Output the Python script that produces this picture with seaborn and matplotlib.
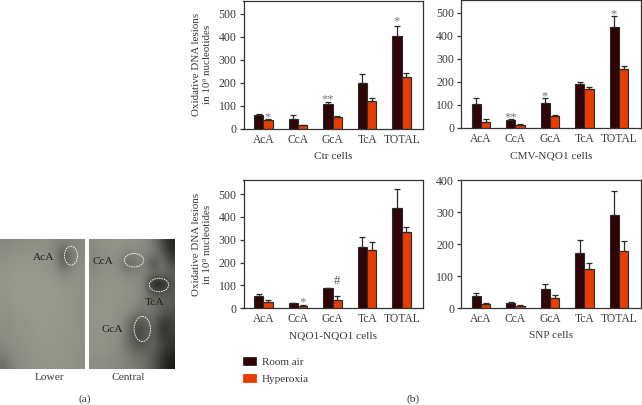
import numpy as np
import pandas as pd
import matplotlib
matplotlib.use('Agg')
import matplotlib.pyplot as plt
import seaborn as sns
from matplotlib.colors import LinearSegmentedColormap
from matplotlib.patches import Ellipse, Patch

sns.set_theme(style="white")
plt.rcParams['font.family'] = ['Liberation Serif', 'DejaVu Serif']
plt.rcParams['text.color'] = '#3a3a3a'
plt.rcParams['axes.labelcolor'] = '#3a3a3a'
plt.rcParams['xtick.color'] = '#3a3a3a'
plt.rcParams['ytick.color'] = '#3a3a3a'

W, H = 642, 405
DARK = '#2f0406'
ORANGE = '#e93c00'

bases = ['AcA', 'CcA', 'GcA', 'TcA', 'TOTAL']
conditions = ['Room air', 'Hyperoxia']

ctr_room = [58, 40, 107, 197, 402]
ctr_room_top = [62, 58, 118, 236, 448]
ctr_hyper = [37, 15, 53, 121, 225]
ctr_hyper_top = [42, 17, 54, 132, 240]

cmv_room = [105, 35, 110, 193, 440]
cmv_room_top = [132, 37, 128, 200, 486]
cmv_hyper = [27, 14, 50, 168, 255]
cmv_hyper_top = [38, 17, 58, 178, 267]

nqo_room = [55, 22, 90, 268, 438]
nqo_room_top = [63, 23, 91, 310, 523]
nqo_hyper = [28, 12, 38, 257, 335]
nqo_hyper_top = [35, 15, 52, 292, 357]

snp_room = [38, 16, 61, 174, 291]
snp_room_top = [47, 20, 75, 213, 368]
snp_hyper = [15, 8, 32, 123, 180]
snp_hyper_top = [18, 9, 43, 143, 209]

# gel photos, coarse grey levels
gel_lower = [
    [128, 132, 134, 136, 136, 134, 130, 122, 128, 130],
    [136, 140, 142, 142, 142, 140, 132, 72, 118, 134],
    [140, 142, 144, 144, 144, 142, 136, 86, 124, 136],
    [142, 144, 146, 146, 146, 144, 142, 130, 136, 138],
    [142, 146, 146, 148, 148, 146, 144, 142, 140, 138],
    [142, 146, 148, 148, 148, 148, 146, 144, 142, 138],
    [140, 144, 146, 148, 148, 148, 146, 144, 142, 138],
    [138, 142, 144, 146, 146, 146, 144, 144, 142, 138],
    [136, 140, 142, 144, 146, 146, 144, 144, 142, 138],
    [134, 138, 140, 142, 144, 146, 144, 142, 142, 138],
    [130, 136, 138, 142, 144, 144, 144, 142, 140, 138],
    [122, 132, 136, 140, 142, 144, 142, 142, 140, 136],
    [104, 126, 134, 138, 140, 142, 142, 140, 140, 136],
]
gel_central = [
    [134, 138, 140, 142, 140, 138, 130, 120, 70, 30],
    [130, 134, 138, 140, 120, 128, 128, 116, 100, 40],
    [128, 134, 138, 128, 92, 112, 124, 60, 116, 70],
    [134, 136, 140, 138, 128, 130, 126, 110, 110, 90],
    [138, 140, 142, 140, 138, 134, 124, 16, 14, 80],
    [140, 142, 142, 142, 140, 134, 122, 80, 96, 84],
    [140, 142, 142, 140, 138, 132, 118, 110, 96, 84],
    [142, 142, 142, 138, 130, 112, 108, 108, 80, 70],
    [142, 142, 142, 136, 114, 70, 84, 100, 40, 60],
    [140, 142, 140, 134, 108, 64, 78, 96, 44, 56],
    [140, 140, 138, 132, 110, 76, 84, 92, 70, 46],
    [138, 138, 136, 130, 118, 104, 100, 90, 50, 30],
    [134, 134, 130, 130, 124, 116, 104, 84, 44, 20],
]

gel_cmap = LinearSegmentedColormap.from_list('gel', ['#050505', '#9b9c91'])

fig = plt.figure(figsize=(W / 100, H / 100), dpi=100)


def box(left, top, right, bottom):
    return [left / W, 1 - bottom / H, (right - left) / W, (bottom - top) / H]


def px(x, y):
    return x / W, 1 - y / H


def draw_panel(rect, room, room_top, hyper, hyper_top, xlabel, ymax, yticks, xlim, ylabel=False):
    ax = fig.add_axes(box(*rect))
    df = pd.DataFrame({
        'base': bases * 2,
        'condition': [conditions[0]] * 5 + [conditions[1]] * 5,
        'value': room + hyper,
    })
    sns.barplot(data=df, x='base', y='value', hue='condition', order=bases, hue_order=conditions,
                palette=[DARK, ORANGE], saturation=1, width=0.54, gap=0, errorbar=None, legend=False,
                edgecolor='#2a2a2a', linewidth=0.8, ax=ax)
    xs = np.arange(5)
    ax.errorbar(xs - 0.135, room, yerr=[[0] * 5, np.array(room_top) - np.array(room)], fmt='none',
                ecolor='#2a2a2a', elinewidth=0.9, capsize=2, capthick=0.9)
    ax.errorbar(xs + 0.135, hyper, yerr=[[0] * 5, np.array(hyper_top) - np.array(hyper)], fmt='none',
                ecolor='#2a2a2a', elinewidth=0.9, capsize=2, capthick=0.9)
    ax.set_xlim(*xlim)
    ax.set_ylim(0, ymax)
    ax.set_yticks(yticks)
    ax.tick_params(axis='y', left=True, length=3, width=0.9, pad=2, labelsize=8.6)
    ax.tick_params(axis='x', bottom=False, length=0, pad=3.5, labelsize=8.3)
    ax.set_xlabel(xlabel, fontsize=8.1, labelpad=4.5)
    if ylabel:
        ax.set_ylabel('Oxidative DNA lesions\nin 10⁹ nucleotides', fontsize=7.9, labelpad=5, linespacing=1.3)
    else:
        ax.set_ylabel('')
    for s in ax.spines.values():
        s.set_color('#333333')
        s.set_linewidth(0.9)
    return ax


ax1 = draw_panel((243.5, 0.5, 423, 128.7), ctr_room, ctr_room_top, ctr_hyper, ctr_hyper_top,
                 'Ctr cells', 557, [0, 100, 200, 300, 400, 500], (-0.572, 4.615), ylabel=True)
ax2 = draw_panel((461, 0.5, 641, 128), cmv_room, cmv_room_top, cmv_hyper, cmv_hyper_top,
                 'CMV-NQO1 cells', 553, [0, 100, 200, 300, 400, 500], (-0.58, 4.64))
ax3 = draw_panel((243.5, 180.3, 423, 308.3), nqo_room, nqo_room_top, nqo_hyper, nqo_hyper_top,
                 'NQO1-NQO1 cells', 560, [0, 100, 200, 300, 400, 500], (-0.572, 4.615), ylabel=True)
ax4 = draw_panel((461, 180.3, 641, 308.3), snp_room, snp_room_top, snp_hyper, snp_hyper_top,
                 'SNP cells', 400, [0, 100, 200, 300, 400], (-0.58, 4.64))

# significance marks
star = dict(ha='center', va='center', fontsize=9, color='#777777')
ax1.text(0.135, 50, '*', **star)
ax1.text(1.85, 126, '**', **star)
ax1.text(3.85, 468, '*', **star)
ax2.text(0.85, 48, '**', **star)
ax2.text(1.85, 138, '*', **star)
ax2.text(3.85, 495, '*', **star)
ax3.text(1.135, 25, '*', **star)
ax3.text(2.135, 118, '#', ha='center', va='center', fontsize=9, color='#555555')

# gel photos
gel1 = fig.add_axes(box(0, 239, 85, 369))
gel1.imshow(gel_lower, cmap=gel_cmap, vmin=0, vmax=150, aspect='auto', interpolation='bicubic',
            extent=(0, 85, 369, 239))
gel1.add_patch(Ellipse((71, 255.7), 13, 19, fill=False, ec='white', ls=(0, (2, 1)), lw=0.6))
gel1.text(43.7, 257, 'AcA', ha='center', va='center', fontsize=8.2, color='#222222')
gel1.axis('off')

gel2 = fig.add_axes(box(89, 239, 175, 369))
gel2.imshow(gel_central, cmap=gel_cmap, vmin=0, vmax=150, aspect='auto', interpolation='bicubic',
            extent=(89, 175, 369, 239))
for c, w, h in [((134, 260.3), 19.5, 13.5), ((159, 285), 19.5, 13.5), ((142.3, 329), 16.5, 25)]:
    gel2.add_patch(Ellipse(c, w, h, fill=False, ec='white', ls=(0, (2, 1)), lw=0.6))
gel2.text(103, 262, 'CcA', ha='center', va='center', fontsize=8.2, color='#222222')
gel2.text(155, 302.7, 'TcA', ha='center', va='center', fontsize=8.2, color='#222222')
gel2.text(112, 329, 'GcA', ha='center', va='center', fontsize=8.2, color='#222222')
gel2.axis('off')

fig.text(*px(50, 377.7), 'Lower', ha='center', va='center', fontsize=8.2)
fig.text(*px(128, 377.7), 'Central', ha='center', va='center', fontsize=8.2)
fig.text(*px(85, 399), '(a)', ha='center', va='center', fontsize=8.2)
fig.text(*px(413, 399), '(b)', ha='center', va='center', fontsize=8.2)

handles = [Patch(facecolor=DARK, edgecolor='#2a2a2a', lw=0.6), Patch(facecolor=ORANGE, edgecolor=ORANGE, lw=0.6)]
fig.legend(handles, conditions, loc='upper left', bbox_to_anchor=px(240, 354), frameon=False, fontsize=8,
           handlelength=1.1, handleheight=0.75, handletextpad=0.55, labelspacing=0.62, borderpad=0.3,
           borderaxespad=0)

fig.savefig('out.png', dpi=100)
